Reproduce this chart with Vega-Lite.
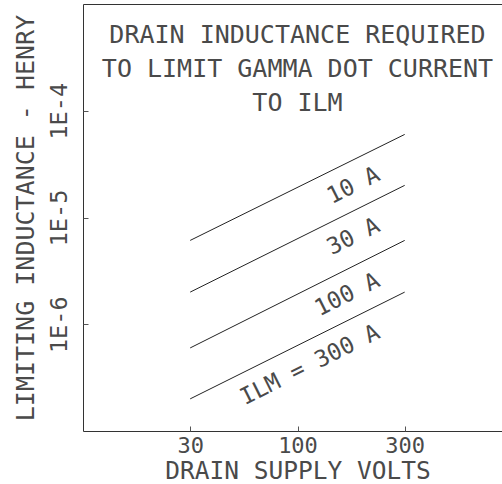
{
  "$schema": "https://vega.github.io/schema/vega-lite/v6.json",
  "width": 429,
  "height": 427,
  "autosize": {"type": "none"},
  "padding": {"left": 83, "top": 4, "right": -10, "bottom": 53},
  "background": "white",
  "title": {
    "text": ["DRAIN INDUCTANCE REQUIRED", "TO LIMIT GAMMA DOT CURRENT", "TO ILM"],
    "anchor": "middle",
    "frame": "group",
    "baseline": "alphabetic",
    "offset": -132.5,
    "lineHeight": 34.2,
    "font": "DejaVu Sans Mono",
    "fontSize": 25,
    "fontWeight": "normal",
    "color": "#4a4a4a"
  },
  "config": {
    "view": {"stroke": "#333", "strokeWidth": 1},
    "font": "DejaVu Sans Mono"
  },
  "data": {
    "values": [
      {"current": 10, "label": "10 A", "volts": 31.6, "inductance": 6.1e-6},
      {"current": 10, "label": "10 A", "volts": 316, "inductance": 6.0e-5},
      {"current": 30, "label": "30 A", "volts": 31.6, "inductance": 2.0e-6},
      {"current": 30, "label": "30 A", "volts": 316, "inductance": 2.0e-5},
      {"current": 100, "label": "100 A", "volts": 31.6, "inductance": 6.0e-7},
      {"current": 100, "label": "100 A", "volts": 316, "inductance": 6.1e-6},
      {"current": 300, "label": "ILM = 300 A", "volts": 31.6, "inductance": 2.0e-7},
      {"current": 300, "label": "ILM = 300 A", "volts": 316, "inductance": 2.0e-6}
    ]
  },
  "layer": [
    {
      "mark": {"type": "line", "color": "#222", "strokeWidth": 1},
      "encoding": {
        "x": {
          "field": "volts",
          "type": "quantitative",
          "scale": {"type": "log", "domain": [10, 1000], "nice": false},
          "axis": {
            "values": [31.6, 100, 316],
            "labelExpr": "datum.value < 50 ? '30' : datum.value < 200 ? '100' : '300'",
            "domain": false,
            "grid": false,
            "tickSize": -5,
            "tickColor": "#555",
            "labelPadding": 9.5,
            "labelFont": "DejaVu Sans Mono",
            "labelFontSize": 22,
            "labelColor": "#4a4a4a",
            "title": "DRAIN SUPPLY VOLTS",
            "titleFont": "DejaVu Sans Mono",
            "titleFontSize": 24.5,
            "titleFontWeight": "normal",
            "titleColor": "#4a4a4a",
            "titleBaseline": "bottom",
            "titleY": 52.5
          }
        },
        "y": {
          "field": "inductance",
          "type": "quantitative",
          "scale": {"type": "log", "domain": [1e-7, 1e-3], "nice": false},
          "axis": {
            "values": [1e-6, 1e-5, 1e-4],
            "labelExpr": "'1E' + round(log(datum.value) / LN10)",
            "domain": false,
            "grid": false,
            "tickSize": -5,
            "tickColor": "#555",
            "labelAngle": 270,
            "labelAlign": "center",
            "labelBaseline": "alphabetic",
            "labelPadding": 21.5,
            "labelFont": "DejaVu Sans Mono",
            "labelFontSize": 23.5,
            "labelColor": "#4a4a4a",
            "title": "LIMITING INDUCTANCE - HENRY",
            "titleFont": "DejaVu Sans Mono",
            "titleFontSize": 25,
            "titleFontWeight": "normal",
            "titleColor": "#4a4a4a",
            "titleAngle": 270,
            "titleBaseline": "alphabetic",
            "titleX": -50
          }
        },
        "detail": {"field": "current", "type": "nominal"}
      }
    },
    {
      "transform": [{"filter": "datum.volts > 100"}],
      "mark": {
        "type": "text",
        "align": "right",
        "baseline": "alphabetic",
        "angle": 333.5,
        "dx": -41,
        "dy": 30,
        "font": "DejaVu Sans Mono",
        "fontSize": 23,
        "color": "#4a4a4a"
      },
      "encoding": {
        "x": {"field": "volts", "type": "quantitative"},
        "y": {"field": "inductance", "type": "quantitative"},
        "text": {"field": "label", "type": "nominal"}
      }
    }
  ]
}
